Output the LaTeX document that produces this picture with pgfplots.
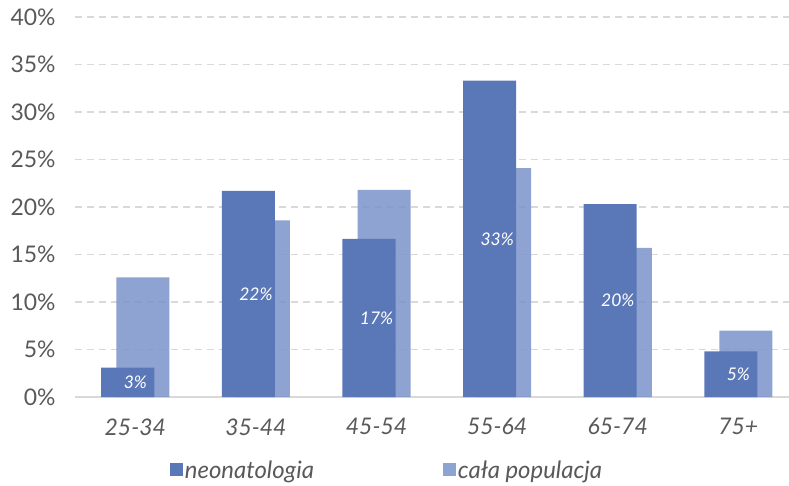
\documentclass[border=0pt]{standalone}
\usepackage{pgfplots}
\pgfplotsset{compat=1.18}
\usepackage{fontspec}
\setmainfont{Lato}
\definecolor{darkbar}{HTML}{5A77B8}
\definecolor{lightbar}{HTML}{7A93C9}
\definecolor{gridc}{HTML}{D9D9D9}
\definecolor{txt}{HTML}{595959}
\begin{document}
\begin{tikzpicture}
\begin{axis}[
  scale only axis,
  width=714bp, height=380bp,
  xmin=-0.5, xmax=5.42,
  ymin=0, ymax=40,
  ytick={5,10,...,40},
  extra y ticks={0},
  extra y tick style={grid=none},
  xtick={0,1,2,3,4,5},
  xticklabels={25-34,35-44,45-54,55-64,65-74,75+},
  yticklabel={\pgfmathprintnumber{\tick}\%},
  /pgf/number format/assume math mode=true,
  axis x line*=bottom,
  axis y line*=left,
  y axis line style={draw=none},
  x axis line style={draw=gridc, line width=1.2bp, -},
  major tick length=0pt,
  ymajorgrids,
  major grid style={draw=gridc, line width=1.2bp, dash pattern=on 7bp off 5bp},
  yticklabel style={font=\fontsize{23}{27}\selectfont, text=txt, anchor=east, xshift=-16bp},
  xticklabel style={font=\fontsize{23}{27}\selectfont\itshape, text=txt, yshift=-18bp},
  clip=false,
  bar width=0.44,
  legend columns=2,
  legend style={draw=none, at={(0.437,-0.192)}, anchor=center,
    font=\fontsize{24}{28}\selectfont\itshape, text=txt,
    /tikz/every even column/.append style={column sep=127bp}},
  legend image code/.code={\fill[#1] (0bp,-6.5bp) rectangle (13bp,6.5bp);},
]
\addplot[ybar, fill=lightbar, fill opacity=0.85, draw=none, bar shift=0.0625, forget plot] coordinates {
  (0,12.6) (1,18.6) (2,21.8) (3,24.1) (4,15.7) (5,7.0)
};
\addplot[ybar, fill=darkbar, draw=none, bar shift=-0.0625,
  visualization depends on={y \as \rawy},
  nodes near coords={\pgfmathprintnumber[fixed,precision=0]{\pgfplotspointmeta}\%},
  every node near coord/.append style={anchor=center, text=white,
    font=\fontsize{17.5}{21}\selectfont\itshape,
    shift={(axis direction cs:0,-\rawy/2)}},
] coordinates {
  (0,3.1) (1,21.7) (2,16.65) (3,33.3) (4,20.3) (5,4.8)
};
\addlegendentry{neonatologia}
\addlegendimage{fill=lightbar, fill opacity=0.85, draw=none}
\addlegendentry{cała populacja}
\end{axis}
\pgfresetboundingbox
\path[use as bounding box] (current axis.south west) ++(-75bp,-89bp) rectangle ++(789bp,486bp);
\end{tikzpicture}
\end{document}
